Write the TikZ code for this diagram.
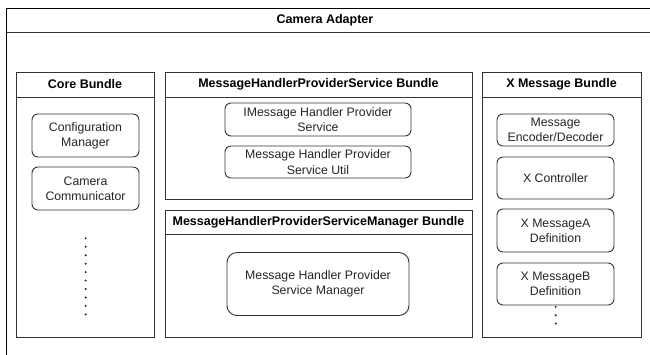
\documentclass[tikz,border=0pt]{standalone}
\usepackage{fontspec}
\setmainfont{Liberation Sans}
\definecolor{edge}{gray}{0.2}
\definecolor{txt}{gray}{0.15}
\tikzset{
  frame/.style={draw=edge, line width=1pt, rectangle, inner sep=0pt},
  bundle/.style={frame},
  comp/.style={draw=edge, line width=0.9pt, rectangle, rounded corners=6pt, inner sep=0pt,
     align=center, text=txt, font=\fontsize{12.3}{15.3}\selectfont},
  head/.style={font=\fontsize{12.5}{15}\selectfont\bfseries, inner sep=0pt, text=black},
  dot/.style={fill=black!85}
}
\begin{document}
\begin{tikzpicture}[x=1pt,y=-1pt]
\useasboundingbox (0,0) rectangle (650,354);
\clip (0,0) rectangle (650,354);
\fill[white] (0,0) rectangle (650,354);
% outer
\node[frame, draw=black, minimum width=660pt, minimum height=360pt, anchor=north west] (outer) at (6,8) {};
\draw[edge, line width=1pt] (6,32) -- (660,32);
\node[head] (outerT) at (325,20) {Camera Adapter};
% Core bundle
\node[bundle, minimum width=138pt, minimum height=265pt, anchor=north west] (core) at (16,72) {};
\draw[edge, line width=1pt] (16,97) -- (154,97);
\node[head] (coreT) at (85,84.5) {Core Bundle};
\node[comp, minimum width=107pt, minimum height=43pt] (cfg) at (85.5,135.5) {Configuration\\Manager};
\node[comp, minimum width=107pt, minimum height=43pt] (cam) at (85.5,188.5) {Camera\\Communicator};
\foreach \i in {0,...,9} \fill[dot] (85.7,238.3+8.45*\i) circle (1.1pt);
% MHPS bundle
\node[bundle, minimum width=307pt, minimum height=127pt, anchor=north west] (mhps) at (165,72) {};
\draw[edge, line width=1pt] (165,97) -- (472,97);
\node[head] (mhpsT) at (318.5,84.5) {MessageHandlerProviderService Bundle};
\node[comp, minimum width=186pt, minimum height=33pt] (imh) at (318,119.5) {IMessage Handler Provider\\Service};
\node[comp, minimum width=186pt, minimum height=32pt] (mhu) at (318,162) {Message Handler Provider\\Service Util};
% MHPSM bundle
\node[bundle, minimum width=307pt, minimum height=127pt, anchor=north west] (mhpsm) at (165,210) {};
\draw[edge, line width=1pt] (165,234) -- (472,234);
\node[head] (mhpsmT) at (318.5,222) {MessageHandlerProviderServiceManager Bundle};
\node[comp, rounded corners=10pt, minimum width=182pt, minimum height=63pt] (mgr) at (318,284) {Message Handler Provider\\Service Manager};
% X Message bundle
\node[bundle, minimum width=159pt, minimum height=265pt, anchor=north west] (xmb) at (482,72) {};
\draw[edge, line width=1pt] (482,97) -- (641,97);
\node[head] (xmbT) at (561.5,84.5) {X Message Bundle};
\node[comp, minimum width=117pt, minimum height=32pt] (enc) at (555.5,130) {Message\\Encoder/Decoder};
\node[comp, minimum width=117pt, minimum height=42pt] (ctl) at (555.5,178) {X Controller};
\node[comp, minimum width=117pt, minimum height=43pt] (ma) at (555.5,230.5) {X MessageA\\Definition};
\node[comp, minimum width=117pt, minimum height=42pt] (mb) at (555.5,284) {X MessageB\\Definition};
\foreach \i in {0,1,2} \fill[dot] (555.7,306.9+8.3*\i) circle (1.1pt);
\end{tikzpicture}
\end{document}
